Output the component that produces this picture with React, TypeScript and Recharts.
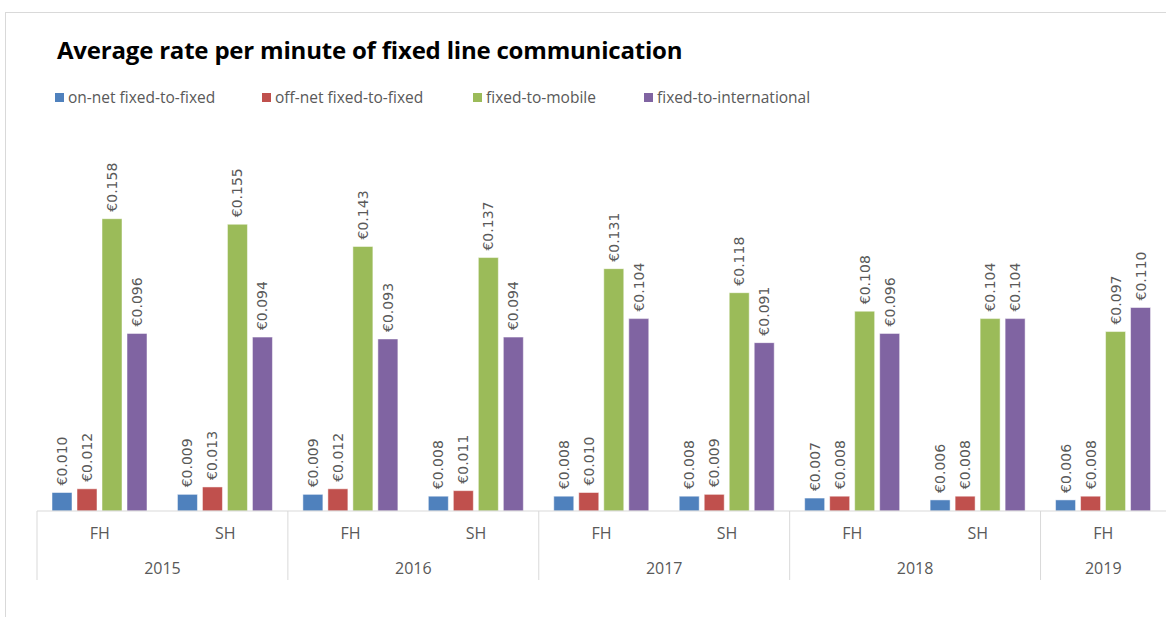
import { BarChart, Bar, XAxis, YAxis, LabelList } from "recharts";

const halves = ["FH", "SH", "FH", "SH", "FH", "SH", "FH", "SH", "FH"];
const years = ["2015", "2015", "2016", "2016", "2017", "2017", "2018", "2018", "2019"];
const onNet = [0.01, 0.009, 0.009, 0.008, 0.008, 0.008, 0.007, 0.006, 0.006];
const offNet = [0.012, 0.013, 0.012, 0.011, 0.01, 0.009, 0.008, 0.008, 0.008];
const toMobile = [0.158, 0.155, 0.143, 0.137, 0.131, 0.118, 0.108, 0.104, 0.097];
const toIntl = [0.096, 0.094, 0.093, 0.094, 0.104, 0.091, 0.096, 0.104, 0.11];

const seriesNames = [
  "on-net fixed-to-fixed",
  "off-net fixed-to-fixed",
  "fixed-to-mobile",
  "fixed-to-international",
];
const colors = ["#4F81BD", "#C0504D", "#9BBB59", "#8064A2"];
const legendX = [55, 262, 473, 644];

const data = halves.map((h, i) => ({
  key: i,
  half: h,
  year: years[i],
  onNet: onNet[i],
  offNet: offNet[i],
  toMobile: toMobile[i],
  toIntl: toIntl[i],
}));
const keys = ["onNet", "offNet", "toMobile", "toIntl"];

const W = 1166;
const H = 617;
const LEFT = 37;
const band = (W - LEFT) / data.length;

const textColor = "#595959";
const font = "'Open Sans', sans-serif";

const ValueLabel = (props: any) => {
  const { x, y, width, value } = props;
  const cx = x + width / 2;
  const ty = y - 7;
  return (
    <text
      x={cx}
      y={ty}
      transform={`rotate(-90, ${cx}, ${ty})`}
      textAnchor="start"
      dominantBaseline="central"
      fontSize={14}
      fontFamily="'DejaVu Sans', sans-serif"
      fill={textColor}
    >
      €{Number(value).toFixed(3)}
    </text>
  );
};

const AxisTick = (props: any) => {
  const { x, y, payload } = props;
  const i = payload.index;
  const d = data[i];
  const isFirst = d.half === "FH";
  const hasPair = i + 1 < data.length && data[i + 1].year === d.year;
  const yearX = hasPair ? x + band / 2 : x;
  return (
    <g>
      <text x={x} y={y + 20} textAnchor="middle" fontSize={16} fontFamily={font} fill={textColor}>
        {d.half}
      </text>
      {isFirst && (
        <>
          <line x1={x - band / 2} y1={y - 8} x2={x - band / 2} y2={y + 61} stroke="#d9d9d9" />
          <text x={yearX} y={y + 55} textAnchor="middle" fontSize={16} fontFamily={font} fill={textColor}>
            {d.year}
          </text>
        </>
      )}
    </g>
  );
};

export default function App() {
  return (
    <div style={{ position: "absolute", left: 0, top: 0, width: W, height: H, background: "#fff" }}>
      <div
        style={{
          position: "absolute",
          left: 5,
          top: 12,
          width: W - 5,
          height: H - 12,
          borderTop: "1px solid #d9d9d9",
          borderLeft: "1px solid #d9d9d9",
          boxSizing: "border-box",
        }}
      />
      <div
        style={{
          position: "absolute",
          left: 57,
          top: 33,
          fontFamily: font,
          fontWeight: 700,
          fontSize: 24,
          color: "#000",
          whiteSpace: "nowrap",
          letterSpacing: -0.2,
        }}
      >
        Average rate per minute of fixed line communication
      </div>
      <svg
        width={W}
        height={30}
        style={{ position: "absolute", left: 0, top: 84, display: "block", overflow: "visible" }}
      >
        {seriesNames.map((n, i) => (
          <g key={n}>
            <rect x={legendX[i]} y={9} width={9} height={9} fill={colors[i]} />
            <text x={legendX[i] + 13} y={19} fontSize={15.5} fontFamily={font} fill={textColor}>
              {n}
            </text>
          </g>
        ))}
      </svg>
      <BarChart
        width={W}
        height={H}
        data={data}
        margin={{ top: 141, right: 0, left: LEFT, bottom: 36 }}
        barCategoryGap={15}
        barGap={5}
        style={{ position: "absolute", left: 0, top: 0 }}
      >
        <XAxis
          dataKey="key"
          tick={<AxisTick />}
          tickLine={false}
          axisLine={{ stroke: "#d9d9d9" }}
          height={70}
          interval={0}
        />
        <YAxis hide domain={[0, 0.2]} width={0} />
        {keys.map((k, i) => (
          <Bar
            key={k}
            dataKey={k}
            name={seriesNames[i]}
            fill={colors[i]}
            stroke="#fff"
            strokeWidth={0.5}
            barSize={20}
            isAnimationActive={false}
          >
            <LabelList dataKey={k} content={<ValueLabel />} />
          </Bar>
        ))}
      </BarChart>
    </div>
  );
}
